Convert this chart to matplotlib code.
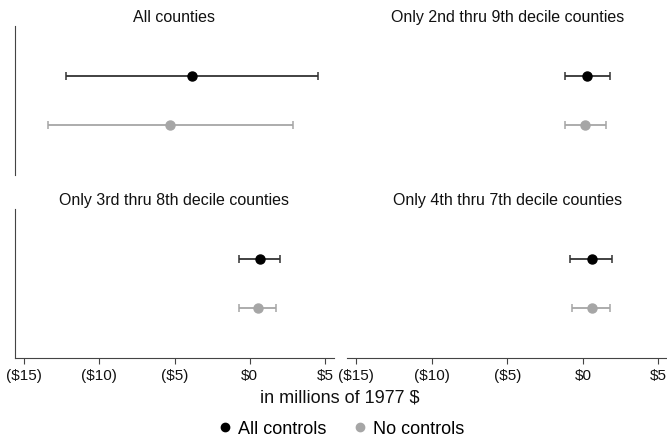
import matplotlib
matplotlib.use("Agg")
import matplotlib.pyplot as plt
from matplotlib.lines import Line2D

plt.rcParams["font.family"] = ["Liberation Sans", "DejaVu Sans"]

# Point estimates and 95% CI bounds, in millions of 1977 $
panel_titles = [
    "All counties",
    "Only 2nd thru 9th decile counties",
    "Only 3rd thru 8th decile counties",
    "Only 4th thru 7th decile counties",
]
all_est = [-3.87, 0.27, 0.66, 0.58]
all_lo = [-12.24, -1.21, -0.73, -0.83]
all_hi = [4.54, 1.81, 1.99, 1.92]
none_est = [-5.27, 0.13, 0.53, 0.58]
none_lo = [-13.39, -1.21, -0.73, -0.73]
none_hi = [2.88, 1.52, 1.75, 1.81]

xticks = [-15, -10, -5, 0, 5]
xticklabels = ["($15)", "($10)", "($5)", "$0", "$5"]

W, H = 667, 436
fig = plt.figure(figsize=(W / 100, H / 100), dpi=100)

# panel boxes in pixels: left, top, right, bottom
boxes = [
    (14.7, 26, 334, 175),
    (347, 26, 667.4, 175),
    (14.7, 209, 334, 357.7),
    (347, 209, 667.4, 357.7),
]

axis_col = "#444444"
black = "black"
bar_black = "#333333"
gray = "#a6a6a6"

for i, (l, t, r, b) in enumerate(boxes):
    ax = fig.add_axes([l / W, 1 - b / H, (r - l) / W, (b - t) / H])
    ax.set_xlim(-15.62, 5.6)
    ax.set_ylim(0, 3)

    ax.errorbar(all_est[i], 2,
                xerr=[[all_est[i] - all_lo[i]], [all_hi[i] - all_est[i]]],
                fmt="o", color=black, ecolor=bar_black, markersize=6.5,
                elinewidth=1.3, capsize=3, capthick=1.1)
    ax.errorbar(none_est[i], 1,
                xerr=[[none_est[i] - none_lo[i]], [none_hi[i] - none_est[i]]],
                fmt="o", color=gray, ecolor=gray, markersize=6.5,
                elinewidth=1.3, capsize=3, capthick=1.1)

    ax.set_title(panel_titles[i], fontsize=11.5, pad=3, color="#111111")

    for side in ["top", "right"]:
        ax.spines[side].set_visible(False)
    ax.spines["left"].set_visible(i % 2 == 0)
    ax.spines["bottom"].set_visible(i >= 2)
    ax.spines["left"].set_color(axis_col)
    ax.spines["bottom"].set_color(axis_col)

    ax.set_yticks([])
    if i >= 2:
        ax.set_xticks(xticks)
        ax.set_xticklabels(xticklabels, fontsize=11, color="#111111")
        ax.tick_params(axis="x", direction="out", length=4, color=axis_col, pad=4)
    else:
        ax.set_xticks([])

fig.text(340 / W, 1 - 398 / H, "in millions of 1977 $", ha="center", va="center",
         fontsize=13, color="#111111")

handles = [
    Line2D([], [], marker="o", linestyle="none", color=black, markersize=6),
    Line2D([], [], marker="o", linestyle="none", color=gray, markersize=6),
]
fig.legend(handles, ["All controls", "No controls"], loc="center",
           bbox_to_anchor=(340 / W, 1 - 429 / H), ncol=2, frameon=False,
           fontsize=13, handletextpad=0.2, columnspacing=1.4, handlelength=1.0)

fig.savefig("out.png", dpi=100)
